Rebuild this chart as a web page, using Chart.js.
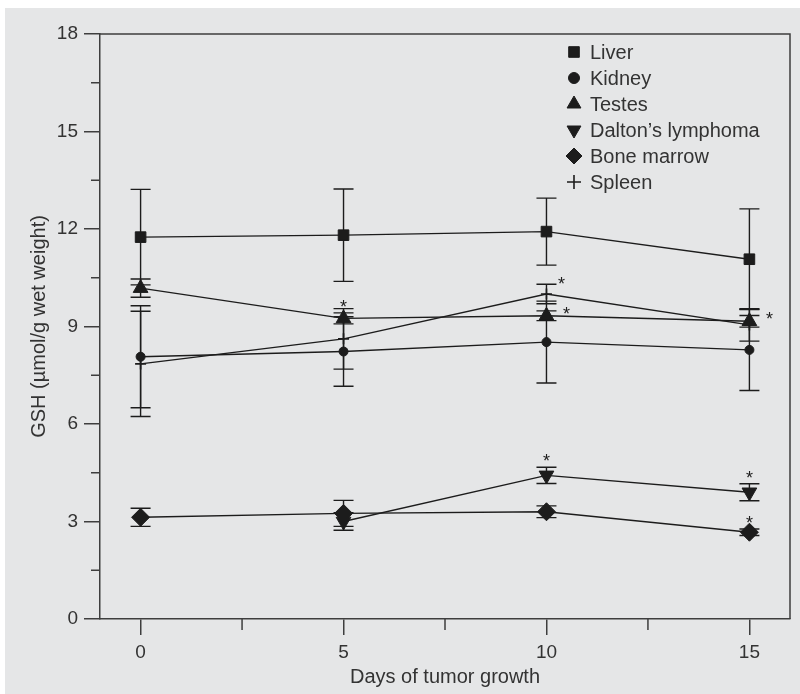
<!DOCTYPE html>
<html>
<head>
<meta charset="utf-8">
<script src="https://cdn.jsdelivr.net/npm/chart.js@4.4.1/dist/chart.umd.min.js"></script>
<style>
  html, body { margin: 0; padding: 0; background: #fff; }
  #panel { position: absolute; left: 5px; top: 8px; width: 795px; height: 686px; background: #e5e6e7; }
</style>
</head>
<body>
<div id="panel"><canvas id="chart" width="795" height="686"></canvas></div>
<script>
// =================== DATA =================== //
const days = [0, 5, 10, 15];
const seriesNames = ['Liver', 'Kidney', 'Testes', 'Dalton\u2019s lymphoma', 'Bone marrow', 'Spleen'];

const liver = [11.75, 11.81, 11.92, 11.07];
const liverSD = [1.47, 1.42, 1.03, 1.55];
const kidney = [8.07, 8.23, 8.52, 8.28];
const kidneySD = [1.57, 1.07, 1.26, 1.25];
const testes = [10.18, 9.25, 9.33, 9.16];
const testesSD = [0.28, 0.17, 0.15, 0.18];
const dalton = [null, 3.0, 4.42, 3.9];
const daltonSD = [null, 0.27, 0.25, 0.26];
const boneMarrow = [3.13, 3.25, 3.3, 2.67];
const boneMarrowSD = [0.28, 0.4, 0.18, 0.1];
const spleen = [7.85, 8.62, 10.0, 9.05];
const spleenSD = [1.62, 0.93, 0.3, 0.5];

const xTicks = [0, 5, 10, 15];
const xMinorTicks = [2.5, 7.5, 12.5];
const yTicks = [0, 3, 6, 9, 12, 15, 18];
const yMinorTicks = [1.5, 4.5, 7.5, 10.5, 13.5, 16.5];

// significance asterisks: [series index, day index, placement]
const sigMarks = [[2, 1, 'top'], [5, 2, 'capRight'], [2, 2, 'right'], [2, 3, 'right'], [3, 2, 'top'], [3, 3, 'top'], [4, 3, 'top']];

const values = [liver, kidney, testes, dalton, boneMarrow, spleen];
const errors = [liverSD, kidneySD, testesSD, daltonSD, boneMarrowSD, spleenSD];

// =================== STYLE =================== //
const ink = '#1c1c1c';
const axisColor = '#3e3e3e';
const textColor = '#333';
const fontFamily = '"Liberation Sans", Arial, sans-serif';

const markers = [
    { pointStyle: 'rect', radius: 7.5, legendRadius: 7.5, rotation: 0 },
    { pointStyle: 'circle', radius: 4.5, legendRadius: 5.5, rotation: 0 },
    { pointStyle: 'triangle', radius: 8.5, legendRadius: 8, rotation: 0 },
    { pointStyle: 'triangle', radius: 8.5, legendRadius: 8, rotation: 180 },
    { pointStyle: 'rectRot', radius: 9, legendRadius: 8, rotation: 0 },
    { pointStyle: 'cross', radius: 5.5, legendRadius: 7, rotation: 0 }
];

const datasets = seriesNames.map((name, i) => ({
    label: name,
    data: days.map((d, j) => ({ x: d, y: values[i][j] })).filter(p => p.y !== null),
    borderColor: ink,
    backgroundColor: ink,
    borderWidth: 1.4,
    pointStyle: markers[i].pointStyle,
    pointRadius: markers[i].radius,
    pointRotation: markers[i].rotation,
    pointBackgroundColor: ink,
    pointBorderColor: ink,
    pointBorderWidth: i === 5 ? 1.6 : 1,
    tension: 0,
    fill: false
}));

// =================== EXTRA DRAWING =================== //
const extrasPlugin = {
    id: 'extras',
    beforeDatasetsDraw(chart) {
        const ctx = chart.ctx;
        const xs = chart.scales.x, ys = chart.scales.y;
        ctx.save();
        ctx.strokeStyle = ink;
        ctx.lineWidth = 1.4;
        values.forEach((vals, i) => {
            vals.forEach((v, j) => {
                const sd = errors[i][j];
                if (v === null || !sd) return;
                const x = xs.getPixelForValue(days[j]);
                const yHi = ys.getPixelForValue(v + sd);
                const yLo = ys.getPixelForValue(v - sd);
                ctx.beginPath();
                ctx.moveTo(x, yHi); ctx.lineTo(x, yLo);
                ctx.moveTo(x - 10, yHi); ctx.lineTo(x + 10, yHi);
                ctx.moveTo(x - 10, yLo); ctx.lineTo(x + 10, yLo);
                ctx.stroke();
            });
        });
        ctx.restore();
    },
    afterDraw(chart) {
        const ctx = chart.ctx;
        const area = chart.chartArea;
        const xs = chart.scales.x, ys = chart.scales.y;
        ctx.save();

        // frame top and right
        ctx.strokeStyle = axisColor;
        ctx.lineWidth = 1.5;
        ctx.beginPath();
        ctx.moveTo(area.left, area.top); ctx.lineTo(area.right, area.top);
        ctx.lineTo(area.right, area.bottom);
        ctx.stroke();

        // minor ticks
        ctx.beginPath();
        xMinorTicks.forEach(v => {
            const x = xs.getPixelForValue(v);
            ctx.moveTo(x, area.bottom); ctx.lineTo(x, area.bottom + 11);
        });
        yMinorTicks.forEach(v => {
            const y = ys.getPixelForValue(v);
            ctx.moveTo(area.left - 9, y); ctx.lineTo(area.left, y);
        });
        ctx.stroke();

        // asterisks
        ctx.fillStyle = ink;
        ctx.font = '18px ' + fontFamily;
        ctx.textAlign = 'center';
        ctx.textBaseline = 'alphabetic';
        sigMarks.forEach(([i, j, where]) => {
            const v = values[i][j], sd = errors[i][j];
            const x = xs.getPixelForValue(days[j]);
            let cx, cy;
            if (where === 'top') {
                cx = x; cy = ys.getPixelForValue(v + sd) - 10;
            } else if (where === 'capRight') {
                cx = x + 15; cy = ys.getPixelForValue(v + sd) - 4;
            } else {
                cx = x + 20; cy = ys.getPixelForValue(v) - 6;
            }
            ctx.fillText('*', cx, cy + 10);
        });

        // legend
        ctx.font = '20px ' + fontFamily;
        ctx.textAlign = 'left';
        ctx.textBaseline = 'middle';
        seriesNames.forEach((name, i) => {
            const mx = area.left + 474;
            const my = area.top + 18 + 26 * i;
            ctx.fillStyle = ink;
            ctx.strokeStyle = ink;
            ctx.lineWidth = i === 5 ? 1.6 : 1;
            Chart.helpers.drawPoint(ctx, {
                pointStyle: markers[i].pointStyle,
                radius: markers[i].legendRadius,
                rotation: markers[i].rotation,
                borderWidth: ctx.lineWidth
            }, mx, my);
            ctx.fillStyle = textColor;
            ctx.fillText(name, area.left + 490, my + 1);
        });
        ctx.restore();
    }
};

// =================== CHART =================== //
const tickFont = { family: fontFamily, size: 19 };
const titleFont = { family: fontFamily, size: 20 };

new Chart(document.getElementById('chart'), {
    type: 'line',
    data: { datasets },
    options: {
        responsive: false,
        animation: false,
        layout: { padding: { top: 26, right: 8, left: 0, bottom: 0 } },
        plugins: {
            legend: { display: false },
            tooltip: { enabled: false }
        },
        scales: {
            x: {
                type: 'linear',
                min: -1,
                max: 16,
                afterBuildTicks: s => { s.ticks = xTicks.map(v => ({ value: v })); },
                afterFit: s => { s.height = 75; },
                grid: { drawOnChartArea: false, drawTicks: true, tickLength: 16, color: axisColor, lineWidth: 1.5 },
                border: { color: axisColor, width: 1.5 },
                ticks: { font: tickFont, color: textColor, padding: 6, maxRotation: 0, autoSkip: false },
                title: { display: true, text: 'Days of tumor growth', font: titleFont, color: textColor, padding: { top: 0, bottom: 5 } }
            },
            y: {
                min: 0,
                max: 18,
                afterBuildTicks: s => { s.ticks = yTicks.map(v => ({ value: v })); },
                afterFit: s => { s.width = 95; },
                grid: { drawOnChartArea: false, drawTicks: true, tickLength: 16, color: axisColor, lineWidth: 1.5 },
                border: { color: axisColor, width: 1.5 },
                ticks: { font: tickFont, color: textColor, padding: 6 },
                title: { display: true, text: 'GSH (\u00b5mol/g wet weight)', font: titleFont, color: textColor, padding: { top: 22, bottom: 0 } }
            }
        }
    },
    plugins: [extrasPlugin]
});
</script>
</body>
</html>
